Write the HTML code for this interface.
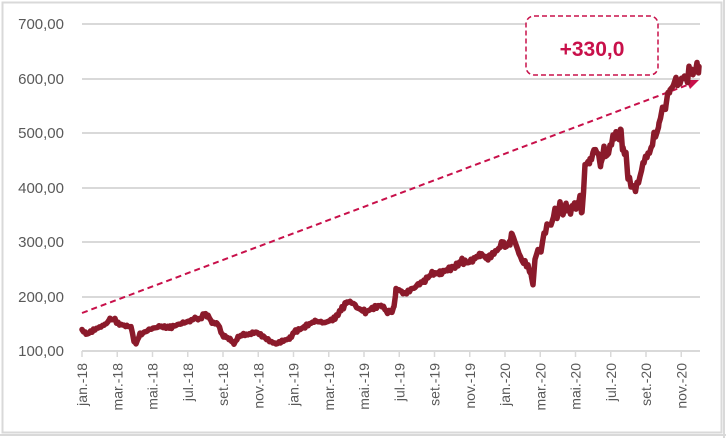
<!DOCTYPE html>
<html><head><meta charset="utf-8"><style>
html,body{margin:0;padding:0;background:#fff;}
svg{display:block;font-family:"Liberation Sans",sans-serif;}
</style></head><body>
<svg width="726" height="438" viewBox="0 0 726 438">
<rect x="0" y="0" width="726" height="438" fill="#fff"/>
<rect x="2.5" y="2.5" width="719" height="430" fill="none" stroke="#d9d9d9" stroke-width="2"/>
<line x1="0" y1="435" x2="726" y2="435" stroke="#d9d9d9" stroke-width="2"/>
<line x1="724" y1="0" x2="724" y2="438" stroke="#d9d9d9" stroke-width="2"/>
<g stroke="#d9d9d9" stroke-width="2">
<line x1="82" y1="24" x2="700" y2="24"/>
<line x1="82" y1="79" x2="700" y2="79"/>
<line x1="82" y1="133" x2="700" y2="133"/>
<line x1="82" y1="188" x2="700" y2="188"/>
<line x1="82" y1="242" x2="700" y2="242"/>
<line x1="82" y1="297" x2="700" y2="297"/>
<line x1="82" y1="351" x2="700" y2="351"/>
</g>
<g font-size="15" fill="#595959" text-anchor="end">
<text x="64" y="29">700,00</text>
<text x="64" y="84">600,00</text>
<text x="64" y="138">500,00</text>
<text x="64" y="193">400,00</text>
<text x="64" y="247">300,00</text>
<text x="64" y="302">200,00</text>
<text x="64" y="356">100,00</text>
</g>
<g id="ticks" stroke="#d9d9d9" stroke-width="1.5"></g>
<g id="labels" font-size="14" fill="#595959"></g>
<line x1="82" y1="313" x2="690" y2="84" stroke="#c8104a" stroke-width="2" stroke-dasharray="6,4"/>
<polygon points="699,80 686,80 690,89" fill="#c8104a"/>
<polyline id="series" fill="none" stroke="#8b1a2b" stroke-width="5.5" stroke-linejoin="round" stroke-linecap="round"/>
<rect x="526" y="16" width="132" height="59" rx="8" fill="#fff" stroke="#c8104a" stroke-width="1.5" stroke-dasharray="5,3"/>
<text x="592" y="56" font-size="21" font-weight="bold" fill="#c8104a" text-anchor="middle">+330,0</text>
</svg>
<script>
var ns="http://www.w3.org/2000/svg";
var names=["jan.-18","mar.-18","mai.-18","jul.-18","set.-18","nov.-18","jan.-19","mar.-19","mai.-19","jul.-19","set.-19","nov.-19","jan.-20","mar.-20","mai.-20","jul.-20","set.-20","nov.-20"];
var tg=document.getElementById("ticks"),lg=document.getElementById("labels");
names.forEach(function(n,i){var x=82+i*35.25;
var l=document.createElementNS(ns,"line");l.setAttribute("x1",x);l.setAttribute("x2",x);l.setAttribute("y1",351);l.setAttribute("y2",357);tg.appendChild(l);
var t=document.createElementNS(ns,"text");t.setAttribute("transform","translate("+(x+5)+",363) rotate(-90)");t.setAttribute("text-anchor","end");t.textContent=n;lg.appendChild(t);});
var d=[[82,140],[86,130],[95,140],[105,148],[110,158],[115,158],[118,150],[128,145],[131,145],[134,118],[136,114],[140,130],[150,140],[160,145],[170,143],[180,150],[190,155],[195,160],[200,158],[204,168],[208,165],[212,152],[218,150],[222,130],[226,125],[230,122],[234,113],[238,125],[242,130],[248,130],[256,135],[262,128],[270,118],[276,113],[282,118],[290,123],[294,135],[300,140],[305,145],[315,155],[325,152],[335,160],[342,178],[347,190],[352,190],[358,178],[366,172],[372,178],[378,182],[382,185],[386,172],[392,172],[394,180],[396,215],[400,210],[405,205],[415,218],[425,230],[432,242],[440,243],[446,248],[455,255],[462,265],[468,262],[475,270],[480,278],[488,270],[494,280],[500,290],[502,305],[505,290],[510,300],[512,315],[515,300],[519,280],[522,265],[525,262],[528,255],[531,240],[533,222],[535,270],[538,285],[541,283],[544,315],[548,330],[552,335],[555,360],[557,345],[560,370],[563,350],[566,370],[569,355],[573,365],[577,368],[580,380],[582,350],[585,440],[590,450],[594,465],[597,470],[599,450],[601,445],[604,470],[607,455],[610,475],[613,490],[616,500],[619,495],[621,500],[623,470],[626,460],[628,420],[631,405],[634,398],[637,403],[640,420],[644,450],[648,460],[651,470],[654,495],[657,500],[659,510],[661,540],[664,545],[666,555],[668,570],[670,575],[672,585],[676,595],[680,590],[683,605],[686,598],[690,612],[694,615],[697,620],[699,622]];
var pts=[];
for(var i=0;i<d.length-1;i++){var a=d[i],b=d[i+1];for(var x=a[0];x<b[0];x+=1.5){var t=(x-a[0])/(b[0]-a[0]);var v=a[1]+(b[1]-a[1])*t;var amp=v*0.012;var n=amp*(Math.sin(x*2.3)+0.6*Math.sin(x*5.7+1)+0.4*Math.sin(x*11.1));pts.push(x.toFixed(1)+","+(351-(v+n-100)*0.545).toFixed(1));}}
pts.push("699,"+(351-(522)*0.545).toFixed(1));
document.getElementById("series").setAttribute("points",pts.join(" "));
</script>
</body></html>
